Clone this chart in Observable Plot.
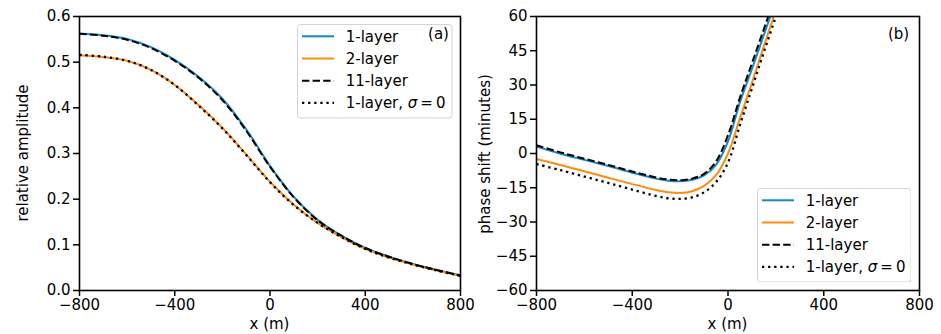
<!DOCTYPE html>
<html><head><meta charset="utf-8">
<script src="https://cdn.jsdelivr.net/npm/d3@7"></script>
<script src="https://cdn.jsdelivr.net/npm/@observablehq/plot@0.6"></script>
<style>
body{margin:0;background:#fff;}
#wrap{position:relative;width:941px;height:334px;font-family:"DejaVu Sans",sans-serif;font-size:15px;color:#000;overflow:hidden;}
.pane{position:absolute;top:0;}
.lab{position:absolute;white-space:nowrap;font-size:15px;line-height:1;}
.leg{position:absolute;}
</style></head><body><div id="wrap"></div>
<script>
// ---- Panel (a): relative amplitude ----
const ampX = [-800,-700,-600,-500,-400,-300,-200,-100,0,100,200,300,400,500,600,700,800];
const ampOneLayer    = [0.563,0.559,0.551,0.533,0.505,0.468,0.420,0.353,0.273,0.205,0.155,0.120,0.093,0.074,0.058,0.045,0.033];
const ampTwoLayer    = [0.515,0.511,0.503,0.483,0.450,0.406,0.356,0.298,0.238,0.188,0.148,0.117,0.091,0.072,0.057,0.044,0.032];
const ampElevenLayer = [0.562,0.558,0.549,0.531,0.503,0.466,0.417,0.350,0.271,0.204,0.154,0.120,0.093,0.074,0.058,0.045,0.033];
const ampSigmaZero   = [0.516,0.512,0.503,0.483,0.450,0.405,0.355,0.297,0.237,0.187,0.148,0.117,0.091,0.072,0.057,0.044,0.032];

// ---- Panel (b): phase shift (minutes) ----
const phaseX = [-800,-700,-600,-500,-400,-300,-250,-200,-150,-100,-50,0,50,100,150,200,250];
const phaseOneLayer    = [3.0,-0.1,-2.8,-5.5,-8.4,-11.0,-11.9,-12.1,-11.5,-9.6,-5.0,5.3,22.5,37.0,52.0,67.0,82.0];
const phaseTwoLayer    = [-2.4,-5.0,-7.8,-10.6,-13.4,-16.0,-17.0,-17.3,-16.5,-14.2,-9.5,0.0,15.5,31.0,47.0,63.0,79.0];
const phaseElevenLayer = [3.6,0.5,-2.3,-5.0,-7.9,-10.5,-11.4,-11.7,-11.0,-8.9,-3.5,8.0,24.5,39.5,54.5,69.5,84.0];
const phaseSigmaZero   = [-4.6,-7.3,-10.1,-12.9,-15.8,-18.6,-19.6,-19.9,-19.2,-17.0,-12.5,-4.0,12.5,28.5,44.5,60.0,76.0];

const seriesNames = ["1-layer","2-layer","11-layer","1-layer, σ\u2009=\u20090"];
const xTicks = [-800,-400,0,400,800];
const ampTicks = [0,0.1,0.2,0.3,0.4,0.5,0.6];
const phaseTicks = [-60,-45,-30,-15,0,15,30,45,60];

const styles = [
  {stroke:"#1689c6", strokeWidth:2, strokeDasharray:null, strokeLinecap:"butt"},
  {stroke:"#ff8b0f", strokeWidth:2, strokeDasharray:null, strokeLinecap:"butt"},
  {stroke:"#000", strokeWidth:2, strokeDasharray:"7.4,3.2", strokeLinecap:"butt"},
  {stroke:"#000", strokeWidth:2.3, strokeDasharray:"2.3,3.8", strokeLinecap:"butt"}
];

function toRows(xs, ys){ return xs.map((x,i)=>({x, y: ys[i]})); }

function lineMarks(xs, sets, clip){
  return sets.map((ys,i)=>Plot.line(toRows(xs, ys), {x:"x", y:"y", curve:"catmull-rom", clip, strokeLinejoin:"round", ...Object.fromEntries(Object.entries(styles[i]).filter(([k,v])=>v!=null))}));
}

const common = {
  height: 334, marginTop: 16, marginBottom: 44,
  style: {fontFamily:'"DejaVu Sans", sans-serif', fontSize:"15px", color:"#000", background:"transparent", overflow:"visible"}
};

const left = Plot.plot({
  ...common, width: 470, marginLeft: 79, marginRight: 10,
  x: {domain:[-800,800]}, y: {domain:[0,0.6]},
  marks: [
    Plot.axisX({ticks:xTicks, tickSize:6, tickPadding:2.5, strokeWidth:1.5, label:null}),
    Plot.axisY({ticks:ampTicks, tickFormat:d3.format(".1f"), tickSize:6, tickPadding:3, strokeWidth:1.5, label:null}),
    ...lineMarks(ampX, [ampOneLayer, ampTwoLayer, ampElevenLayer, ampSigmaZero], false),
    Plot.frame({stroke:"#000", strokeWidth:1.6})
  ]
});
const right = Plot.plot({
  ...common, width: 471, marginLeft: 66, marginRight: 22,
  x: {domain:[-800,800]}, y: {domain:[-60,60]},
  marks: [
    Plot.axisX({ticks:xTicks, tickSize:6, tickPadding:2.5, strokeWidth:1.5, label:null}),
    Plot.axisY({ticks:phaseTicks, tickFormat:d3.format("d"), tickSize:6, tickPadding:3, strokeWidth:1.5, label:null}),
    ...lineMarks(phaseX, [phaseOneLayer, phaseTwoLayer, phaseElevenLayer, phaseSigmaZero], true),
    Plot.frame({stroke:"#000", strokeWidth:1.6})
  ]
});

const wrap = document.getElementById("wrap");
left.classList.add("pane"); left.style.left = "0px";
right.classList.add("pane"); right.style.left = "470px";
wrap.appendChild(left); wrap.appendChild(right);

const NS = "http://www.w3.org/2000/svg";
function legend(x, y, w, h){
  const svg = document.createElementNS(NS, "svg");
  svg.setAttribute("class","leg"); svg.setAttribute("width", w); svg.setAttribute("height", h);
  svg.style.left = x + "px"; svg.style.top = y + "px";
  svg.style.fontFamily = '"DejaVu Sans", sans-serif'; svg.style.fontSize = "15px";
  const r = document.createElementNS(NS, "rect");
  r.setAttribute("x",0.5); r.setAttribute("y",0.5); r.setAttribute("width",w-1); r.setAttribute("height",h-1);
  r.setAttribute("rx",3); r.setAttribute("fill","rgba(255,255,255,0.8)"); r.setAttribute("stroke","#d4d4d4");
  svg.appendChild(r);
  seriesNames.forEach((name,i)=>{
    const yy = 12.3 + 22.2*i;
    const l = document.createElementNS(NS, "line");
    l.setAttribute("x1",5); l.setAttribute("x2",37); l.setAttribute("y1",yy); l.setAttribute("y2",yy);
    const s = styles[i];
    l.setAttribute("stroke", s.stroke); l.setAttribute("stroke-width", s.strokeWidth);
    if (s.strokeDasharray) l.setAttribute("stroke-dasharray", s.strokeDasharray);
    svg.appendChild(l);
    const t = document.createElementNS(NS, "text");
    t.setAttribute("x", 48.7); t.setAttribute("y", yy); t.setAttribute("dy","0.36em");
    if (name.includes("σ")) {
      const parts = name.split("σ");
      const a = document.createElementNS(NS,"tspan"); a.textContent = parts[0];
      const b = document.createElementNS(NS,"tspan"); b.textContent = "σ"; b.setAttribute("font-style","italic");
      const c = document.createElementNS(NS,"tspan"); c.textContent = parts[1];
      t.appendChild(a); t.appendChild(b); t.appendChild(c);
    } else t.textContent = name;
    svg.appendChild(t);
  });
  wrap.appendChild(svg);
}
legend(297, 24, 155.5, 94.5);
legend(756.5, 187.5, 154.5, 94.5);

function label(text, cx, cy, rotate){
  const d = document.createElement("div");
  d.className = "lab"; d.textContent = text;
  d.style.left = cx + "px"; d.style.top = cy + "px";
  d.style.transform = "translate(-50%,-50%)" + (rotate ? " rotate(-90deg)" : "");
  wrap.appendChild(d);
}
label("x (m)", 269.5, 324);
label("x (m)", 727.5, 324);
label("relative amplitude", 23, 152.5, true);
label("phase shift (minutes)", 484.5, 154, true);
label("(a)", 438.5, 33.5);
label("(b)", 898.5, 33.5);
</script>
</body></html>
